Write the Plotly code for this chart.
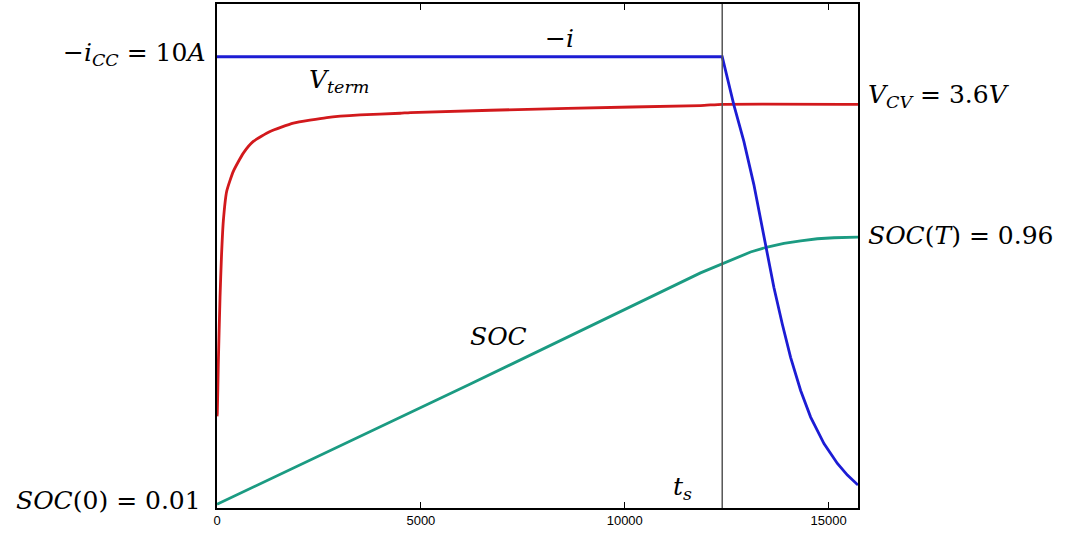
import plotly.graph_objects as go

# ---- data (time in s, values normalized to plot height) ----
t_switch = 12390
t_end = 15720

current_t = [0, 12390, 12675, 12921, 13166, 13454, 13658, 13863, 14067, 14313,
             14558, 14885, 15214, 15459, 15720]
current_v = [0.8953, 0.8953, 0.7998, 0.7273, 0.6417, 0.5231, 0.4374, 0.3650,
             0.2990, 0.2332, 0.1804, 0.1279, 0.0883, 0.0652, 0.0455]

volt_t = [0, 7, 32, 74, 110, 155, 238, 400, 646, 891, 1301, 1873, 2693, 3511,
          4493, 4738, 8593, 11858, 12390, 15720]
volt_v = [0.182, 0.1872, 0.2860, 0.4176, 0.5000, 0.5692, 0.6285, 0.6680, 0.7042,
          0.7273, 0.7470, 0.7635, 0.7747, 0.7800, 0.7832, 0.7846, 0.7931, 0.7985,
          0.8010, 0.8010]

soc_t = [0, 6187, 11858, 12390, 12675, 13085, 13495, 13903, 14313, 14723, 15130, 15720]
soc_v = [0.0073, 0.245, 0.4665, 0.4848, 0.4954, 0.5079, 0.5178, 0.5251, 0.5302,
         0.5342, 0.5362, 0.5375]

x_ticks = [0, 5000, 10000, 15000]

BLUE = "#1c1cd4"
RED = "#d2191c"
GREEN = "#1b9b82"
SERIF = "DejaVu Serif, serif"

fig = go.Figure()
fig.add_trace(go.Scatter(x=soc_t, y=soc_v, mode="lines",
                         line=dict(color=GREEN, width=2.8)))
fig.add_trace(go.Scatter(x=volt_t, y=volt_v, mode="lines",
                         line=dict(color=RED, width=2.8, shape="spline", smoothing=0.5)))
fig.add_trace(go.Scatter(x=current_t, y=current_v, mode="lines",
                         line=dict(color=BLUE, width=2.8)))

fig.add_shape(type="line", x0=t_switch, x1=t_switch, y0=0, y1=1, xref="x", yref="paper",
              line=dict(color="#555555", width=1.5))

fsz = 25
sp = "&nbsp;"
ann = [
    dict(x=0, xref="paper", y=current_v[0], yref="y", xanchor="right", xshift=-10,
         yshift=3, text="−<i>i</i><sub><i>CC</i></sub>" + sp + "=" + sp + "10<i>A</i>"),
    dict(x=0, xref="paper", y=soc_v[0], yref="y", xanchor="right", xshift=-14, yshift=4,
         text="<i>SOC</i>(0)" + sp + "=" + sp + "0.01"),
    dict(x=1, xref="paper", y=volt_v[-1], yref="y", xanchor="left", xshift=8, yshift=8,
         text="<i>V</i><sub><i>CV</i></sub>" + sp + "=" + sp + "3.6<i>V</i>"),
    dict(x=1, xref="paper", y=soc_v[-1], yref="y", xanchor="left", xshift=8, yshift=2,
         text="<i>SOC</i>(<i>T</i>)" + sp + "=" + sp + "0.96"),
    dict(x=8400, xref="x", y=current_v[0], yref="y", yanchor="bottom", yshift=2,
         text="−<i>i</i>"),
    dict(x=3000, xref="x", y=0.82, yref="y", yanchor="bottom", yshift=-4,
         text="<i>V</i><sub><i>term</i></sub>"),
    dict(x=6900, xref="x", y=0.34, yref="y",
         text="<i>SOC</i>"),
    dict(x=t_switch, xref="x", y=0, yref="y", xanchor="right", yanchor="bottom",
         xshift=-28, yshift=2, text="<i>t</i><sub><i>s</i></sub>"),
]
for a in ann:
    a.update(showarrow=False, font=dict(family=SERIF, size=fsz, color="black"))
fig.update_layout(annotations=ann)

fig.update_layout(
    width=1072, height=533,
    margin=dict(l=217, r=214, t=2, b=25),
    paper_bgcolor="white", plot_bgcolor="white",
    showlegend=False,
    xaxis=dict(range=[0, t_end], tickvals=x_ticks, ticktext=[str(v) for v in x_ticks],
               showgrid=False, zeroline=False, showline=True, linecolor="black",
               linewidth=1.5, mirror="ticks", ticks="inside", ticklen=6,
               tickcolor="black", tickwidth=1,
               tickfont=dict(family="Liberation Sans, Arial, sans-serif", size=13,
                             color="black")),
    yaxis=dict(range=[0, 1], showgrid=False, zeroline=False, showline=True,
               linecolor="black", linewidth=1.5, mirror=True, showticklabels=False,
               ticks=""),
)

fig.write_html("out.html", config={"displayModeBar": False},
               post_script="document.body.style.margin='0';document.body.style.overflow='hidden';")
